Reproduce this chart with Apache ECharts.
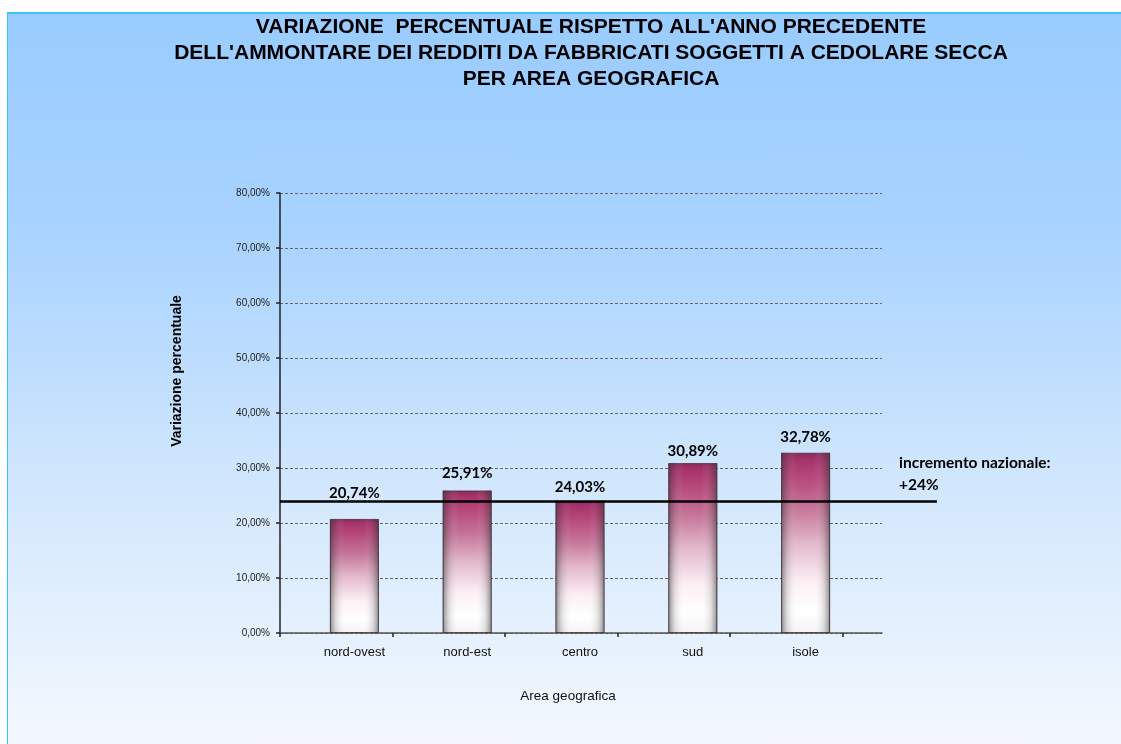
<!DOCTYPE html>
<html>
<head>
<meta charset="utf-8">
<script src="https://cdn.jsdelivr.net/npm/echarts@6/dist/echarts.min.js"></script>
<style>
  html, body { margin:0; padding:0; background:#ffffff; }
  #frame { position:absolute; left:7px; top:12px; width:1114px; height:732px;
    border-left:1.5px solid #3DC3F2; border-top:2px solid #3DC3F2; box-sizing:border-box;
    background:linear-gradient(to bottom, #99CCFF 0%, #A9D3FF 30%, #D2E7FD 65%, #F4F8FE 100%); }
  #chart { position:absolute; left:0; top:0; width:1121px; height:744px; }
</style>
</head>
<body>
<div id="frame"></div>
<div id="chart"></div>
<script>
const TITLE_LINES = [
  "VARIAZIONE  PERCENTUALE RISPETTO ALL'ANNO PRECEDENTE",
  "DELL'AMMONTARE DEI REDDITI DA FABBRICATI SOGGETTI A CEDOLARE SECCA",
  "PER AREA GEOGRAFICA"
];
const CATEGORIES = ["nord-ovest", "nord-est", "centro", "sud", "isole"];
const VALUES = [20.74, 25.91, 24.03, 30.89, 32.78];
const NATIONAL = 24;
const NATIONAL_LABEL = ["incremento nazionale:", "+24%"];
const Y_MIN = 0, Y_MAX = 80, Y_STEP = 10;
const Y_NAME = "Variazione percentuale";
const X_NAME = "Area geografica";
const X_TICKS = [0, 1, 2, 3, 4, 5];

// label distance above each bar (style only)
const LABEL_DISTANCE = [18, 10, 6, 4, 8];

const pct = v => v.toFixed(2).replace('.', ',') + '%';

const chart = echarts.init(document.getElementById('chart'), null, {renderer: 'canvas'});

const barGradient = new echarts.graphic.LinearGradient(0, 0, 0, 1, [
  {offset: 0, color: '#8A2A58'},
  {offset: 0.04, color: '#A5346B'},
  {offset: 0.12, color: '#B54478'},
  {offset: 0.30, color: '#C47397'},
  {offset: 0.50, color: '#E2B8CA'},
  {offset: 0.72, color: '#FCF0F5'},
  {offset: 0.88, color: '#FFFFFF'},
  {offset: 1, color: '#F3F3F3'}
]);
const edgeGradient = new echarts.graphic.LinearGradient(0, 0, 1, 0, [
  {offset: 0, color: 'rgba(50,50,50,0.55)'},
  {offset: 0.12, color: 'rgba(70,70,70,0.18)'},
  {offset: 0.32, color: 'rgba(255,255,255,0)'},
  {offset: 0.68, color: 'rgba(255,255,255,0)'},
  {offset: 0.88, color: 'rgba(70,70,70,0.18)'},
  {offset: 1, color: 'rgba(50,50,50,0.55)'}
]);

const barData = VALUES.map((v, i) => ({ value: v, label: { distance: LABEL_DISTANCE[i] } }));

const option = {
  backgroundColor: 'transparent',
  animation: false,
  title: {
    text: TITLE_LINES.join('\n'),
    left: 586, top: 9, textAlign: 'center',
    textStyle: { fontFamily: 'Liberation Sans', fontWeight: 'bold', fontSize: 21, lineHeight: 26, color: '#000' }
  },
  grid: [
    { left: 280, right: 239, top: 193, bottom: 111 },
    { left: 298, right: 259, top: 193, bottom: 111 },
    { left: 280, right: 184, top: 193, bottom: 111 }
  ],
  xAxis: [
    { type: 'value', gridIndex: 0, min: 0, max: 5.35, interval: 1,
      axisLine: { show: true, lineStyle: { color: '#555', width: 1.5 } },
      axisTick: { show: true, customValues: X_TICKS, length: 4, inside: false, lineStyle: { color: '#222', width: 1.5 } },
      axisLabel: { show: false }, splitLine: { show: false } },
    { type: 'category', gridIndex: 1, data: CATEGORIES,
      axisLine: { show: false }, axisTick: { show: false },
      axisLabel: { margin: 13, fontFamily: 'Liberation Sans', fontSize: 13, color: '#111' } },
    { type: 'value', gridIndex: 2, min: 0, max: 1, show: false }
  ],
  yAxis: [
    { type: 'value', gridIndex: 0, min: Y_MIN, max: Y_MAX, interval: Y_STEP,
      axisLine: { show: true, lineStyle: { color: '#222', width: 1.5 } },
      axisTick: { show: true, length: 4, lineStyle: { color: '#222', width: 1.5 } },
      axisLabel: { formatter: v => pct(v), margin: 10, fontFamily: 'Liberation Sans', fontSize: 10, color: '#222' },
      splitLine: { show: true, lineStyle: { color: '#666', width: 1, type: [3, 2] } } },
    { type: 'value', gridIndex: 1, min: Y_MIN, max: Y_MAX, show: false },
    { type: 'value', gridIndex: 2, min: Y_MIN, max: Y_MAX, show: false }
  ],
  series: [
    { type: 'bar', xAxisIndex: 1, yAxisIndex: 1, data: barData, barWidth: 49,
      itemStyle: { color: barGradient, borderColor: 'rgba(80,45,60,0.85)', borderWidth: 1 },
      label: { show: true, position: 'top', distance: 10, formatter: p => pct(p.value),
        fontFamily: 'Lato', fontWeight: 'bold', fontSize: 15, color: '#000' },
      z: 2 },
    { type: 'bar', xAxisIndex: 1, yAxisIndex: 1, data: VALUES, barWidth: 49, barGap: '-100%',
      itemStyle: { color: edgeGradient }, silent: true, z: 3 },
    { type: 'line', xAxisIndex: 2, yAxisIndex: 2, data: [], z: 5,
      markLine: { silent: true, symbol: 'none', animation: false,
        lineStyle: { color: '#000', width: 2.5, type: 'solid' },
        label: { show: false },
        data: [{ yAxis: NATIONAL }] } }
  ],
  graphic: [
    { type: 'text', left: 899, top: 452, z: 10,
      style: { text: NATIONAL_LABEL.join('\n'), fontFamily: 'Lato', fontWeight: 'bold', fontSize: 15.5, lineHeight: 22, fill: '#000' } },
    { type: 'text', x: 568, y: 696, z: 10,
      style: { text: X_NAME, fontFamily: 'Liberation Sans', fontSize: 13.5, fill: '#111', align: 'center', verticalAlign: 'middle' } },
    { type: 'text', x: 177, y: 371, rotation: Math.PI / 2, z: 10,
      style: { text: Y_NAME, fontFamily: 'Liberation Sans', fontWeight: 'bold', fontSize: 14, fill: '#000', align: 'center', verticalAlign: 'middle' } }
  ]
};
chart.setOption(option);
</script>
</body>
</html>
